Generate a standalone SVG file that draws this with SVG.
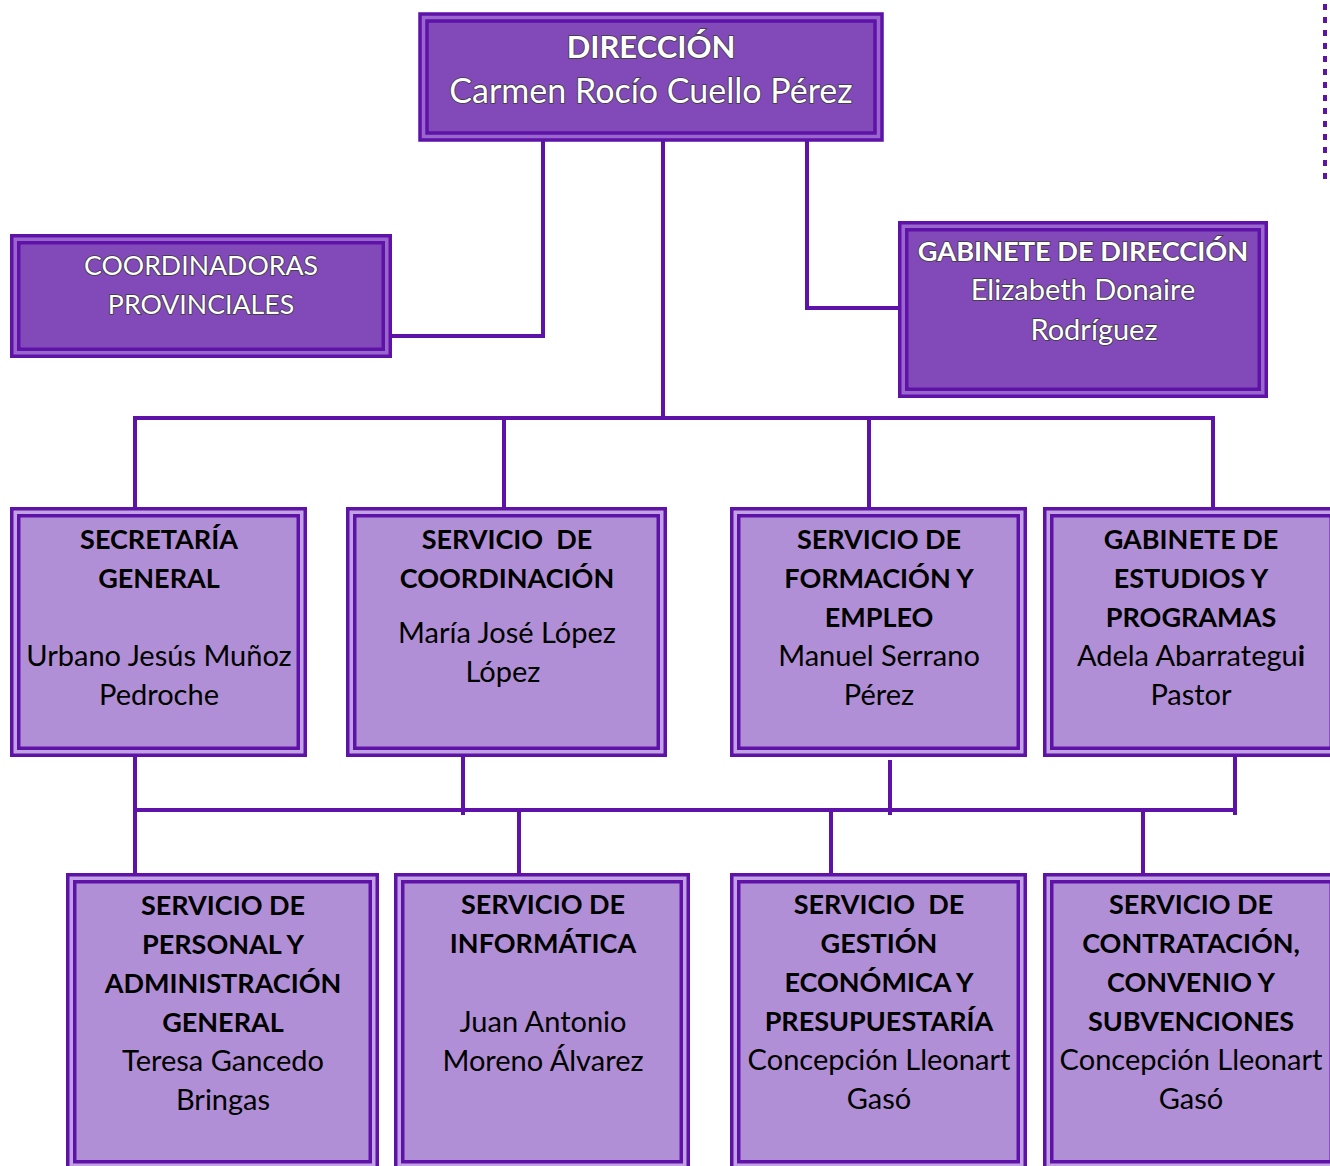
<svg xmlns="http://www.w3.org/2000/svg" width="1330" height="1166" viewBox="0 0 1330 1166">
<style>
.ob{stroke:#5E12A8;stroke-width:3.5}
.ib{stroke:#5E12A8;stroke-width:3.5}
.bt{fill:#9A66CD}
.mt{fill:#8249B9}
.bl{fill:#C2A2E2}
.ml{fill:#B18FD6}
.w{font-family:Lato,"Liberation Sans",sans-serif;fill:#ffffff;stroke:#3a3a3a;stroke-width:1.6;paint-order:stroke fill;text-anchor:middle}
.k{font-family:Lato,"Liberation Sans",sans-serif;fill:#000000;text-anchor:middle;font-size:29px}
.b{font-weight:bold;font-size:27px}
.c{fill:none;stroke:#5E12A8;stroke-width:4}
</style>
<rect width="1330" height="1166" fill="#ffffff"/>
<g id="connectors">
<path class="c" d="M663 141 V418 M135 418 H1215 M135 416 V507 M504 416 V507 M869 416 V507 M1213 416 V507"/>
<path class="c" d="M543 141 V336 H391"/>
<path class="c" d="M807 141 V308 H899"/>
<path class="c" d="M135 757 V873 M135 810 H1237 M463 757 V815 M890 760 V815 M1235 757 V815 M519 810 V873 M831 810 V873 M1143 810 V873"/>
<path d="M1325 4 V182" fill="none" stroke="#5E12A8" stroke-width="4" stroke-dasharray="6 7"/>
</g>
<g id="direccion">
<rect class="ob bt" x="420" y="14" width="462" height="126"/>
<rect class="ib mt" x="427" y="21" width="448" height="112"/>
<text class="w" x="651" y="58" font-size="31" font-weight="bold">DIRECCIÓN</text>
<text class="w" x="651" y="103" font-size="34">Carmen Rocío Cuello Pérez</text>
</g>
<g id="coordinadoras">
<rect class="ob bt" x="11.75" y="235.75" width="378.5" height="120.5"/>
<rect class="ib mt" x="18.75" y="242.75" width="364.5" height="106.5"/>
<text class="w" x="201" y="275" font-size="26.7">COORDINADORAS</text>
<text class="w" x="201" y="314" font-size="26.7">PROVINCIALES</text>
</g>
<g id="gabinete-direccion">
<rect class="ob bt" x="899.75" y="222.75" width="366.5" height="173.5"/>
<rect class="ib mt" x="906.75" y="229.75" width="352.5" height="159.5"/>
<text class="w" x="1083" y="261" font-size="27.2" font-weight="bold">GABINETE DE DIRECCIÓN</text>
<text class="w" x="1083" y="300" font-size="29">Elizabeth Donaire</text>
<text class="w" x="1094" y="340" font-size="29">Rodríguez</text>
</g>
<g id="secretaria">
<rect class="ob bl" x="11.75" y="508.75" width="293.5" height="246.5"/>
<rect class="ib ml" x="18.75" y="515.75" width="279.5" height="232.5"/>
<text class="k b" x="159" y="549">SECRETARÍA</text>
<text class="k b" x="159" y="588">GENERAL</text>
<text class="k" x="159" y="666">Urbano Jesús Muñoz</text>
<text class="k" x="159" y="705">Pedroche</text>
</g>
<g id="coordinacion">
<rect class="ob bl" x="347.75" y="508.75" width="317.5" height="246.5"/>
<rect class="ib ml" x="354.75" y="515.75" width="303.5" height="232.5"/>
<text class="k b" x="507" y="549" xml:space="preserve">SERVICIO  DE</text>
<text class="k b" x="507" y="588">COORDINACIÓN</text>
<text class="k" x="507" y="643">María José López</text>
<text class="k" x="503" y="682">López</text>
</g>
<g id="formacion">
<rect class="ob bl" x="731.75" y="508.75" width="293.5" height="246.5"/>
<rect class="ib ml" x="738.75" y="515.75" width="279.5" height="232.5"/>
<text class="k b" x="879" y="549">SERVICIO DE</text>
<text class="k b" x="879" y="588">FORMACIÓN Y</text>
<text class="k b" x="879" y="627">EMPLEO</text>
<text class="k" x="879" y="666">Manuel Serrano</text>
<text class="k" x="879" y="705">Pérez</text>
</g>
<g id="estudios">
<rect class="ob bl" x="1044.75" y="508.75" width="293.5" height="246.5"/>
<rect class="ib ml" x="1051.75" y="515.75" width="279.5" height="232.5"/>
<text class="k b" x="1191" y="549">GABINETE DE</text>
<text class="k b" x="1191" y="588">ESTUDIOS Y</text>
<text class="k b" x="1191" y="627">PROGRAMAS</text>
<text class="k" x="1191" y="666">Adela Abarrategu<tspan font-weight="bold">i</tspan></text>
<text class="k" x="1191" y="705">Pastor</text>
</g>
<g id="personal">
<rect class="ob bl" x="67.75" y="874.75" width="309.5" height="294"/>
<rect class="ib ml" x="74.75" y="881.75" width="295.5" height="280"/>
<text class="k b" x="223" y="915">SERVICIO DE</text>
<text class="k b" x="223" y="954">PERSONAL Y</text>
<text class="k b" x="223" y="993">ADMINISTRACIÓN</text>
<text class="k b" x="223" y="1032">GENERAL</text>
<text class="k" x="223" y="1071">Teresa Gancedo</text>
<text class="k" x="223" y="1110">Bringas</text>
</g>
<g id="informatica">
<rect class="ob bl" x="395.75" y="874.75" width="292.5" height="294"/>
<rect class="ib ml" x="402.75" y="881.75" width="278.5" height="280"/>
<text class="k b" x="543" y="914">SERVICIO DE</text>
<text class="k b" x="543" y="953">INFORMÁTICA</text>
<text class="k" x="543" y="1032">Juan Antonio</text>
<text class="k" x="543" y="1071">Moreno Álvarez</text>
</g>
<g id="gestion">
<rect class="ob bl" x="731.75" y="874.75" width="293.5" height="294"/>
<rect class="ib ml" x="738.75" y="881.75" width="279.5" height="280"/>
<text class="k b" x="879" y="914" xml:space="preserve">SERVICIO  DE</text>
<text class="k b" x="879" y="953">GESTIÓN</text>
<text class="k b" x="879" y="992">ECONÓMICA Y</text>
<text class="k b" x="879" y="1031">PRESUPUESTARÍA</text>
<text class="k" x="879" y="1070">Concepción Lleonart</text>
<text class="k" x="879" y="1109">Gasó</text>
</g>
<g id="contratacion">
<rect class="ob bl" x="1044.75" y="874.75" width="293.5" height="294"/>
<rect class="ib ml" x="1051.75" y="881.75" width="279.5" height="280"/>
<text class="k b" x="1191" y="914">SERVICIO DE</text>
<text class="k b" x="1191" y="953">CONTRATACIÓN,</text>
<text class="k b" x="1191" y="992">CONVENIO Y</text>
<text class="k b" x="1191" y="1031">SUBVENCIONES</text>
<text class="k" x="1191" y="1070">Concepción Lleonart</text>
<text class="k" x="1191" y="1109">Gasó</text>
</g>
</svg>
